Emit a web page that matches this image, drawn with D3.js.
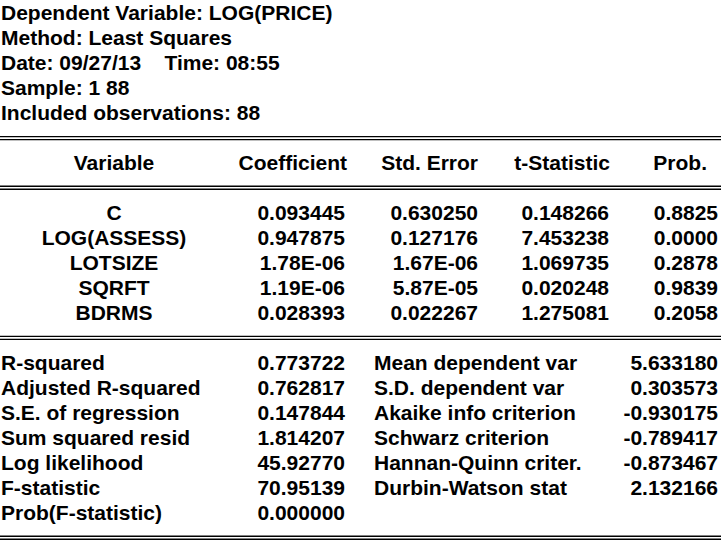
<!DOCTYPE html>
<html>
<head>
<meta charset="utf-8">
<script src="https://cdn.jsdelivr.net/npm/d3@7"></script>
<style>
  html, body { margin: 0; padding: 0; background: #fff; }
  svg { display: block; }
  text { font-family: "Liberation Sans", Arial, sans-serif; font-weight: bold; font-size: 21px; fill: #000; }
</style>
</head>
<body>
<svg id="chart" width="725" height="543"></svg>
<script>
// ---- Data ----
const headerLines = [
  "Dependent Variable: LOG(PRICE)",
  "Method: Least Squares",
  "Date: 09/27/13    Time: 08:55",
  "Sample: 1 88",
  "Included observations: 88"
];
const columnHeaders = ["Variable", "Coefficient", "Std. Error", "t-Statistic", "Prob."];
const variables = ["C", "LOG(ASSESS)", "LOTSIZE", "SQRFT", "BDRMS"];
const coefficients = ["0.093445", "0.947875", "1.78E-06", "1.19E-06", "0.028393"];
const stdErrors = ["0.630250", "0.127176", "1.67E-06", "5.87E-05", "0.022267"];
const tStatistics = ["0.148266", "7.453238", "1.069735", "0.020248", "1.275081"];
const probs = ["0.8825", "0.0000", "0.2878", "0.9839", "0.2058"];
const statLabelsLeft = ["R-squared", "Adjusted R-squared", "S.E. of regression", "Sum squared resid", "Log likelihood", "F-statistic", "Prob(F-statistic)"];
const statValuesLeft = ["0.773722", "0.762817", "0.147844", "1.814207", "45.92770", "70.95139", "0.000000"];
const statLabelsRight = ["Mean dependent var", "S.D. dependent var", "Akaike info criterion", "Schwarz criterion", "Hannan-Quinn criter.", "Durbin-Watson stat"];
const statValuesRight = ["5.633180", "0.303573", "-0.930175", "-0.789417", "-0.873467", "2.132166"];

// ---- Drawing ----
const svg = d3.select("#chart");
svg.append("rect").attr("width", 725).attr("height", 543).attr("fill", "#fff");

const lineStep = 25;
const titleY = d3.scaleLinear().domain([0, 1]).range([20, 20 + lineStep]);
const rowY = d3.scaleLinear().domain([0, 1]).range([220, 220 + lineStep]);
const statY = d3.scaleLinear().domain([0, 1]).range([370, 370 + lineStep]);

// Title block
svg.append("g").selectAll("text").data(headerLines).join("text")
  .attr("x", 1).attr("y", (d, i) => titleY(i))
  .attr("xml:space", "preserve")
  .style("white-space", "pre")
  .text(d => d);

// Double rules
function doubleRule(y) {
  [y, y + 3].forEach(yy => {
    svg.append("line").attr("x1", 0).attr("x2", 721)
      .attr("y1", yy).attr("y2", yy)
      .attr("stroke", "#000").attr("stroke-width", 1.4);
  });
}
doubleRule(136.6);
doubleRule(186.3);
doubleRule(336.4);
doubleRule(536.2);

// Column headers
const headerX = [114, 347, 478, 610, 707];
const headerAnchor = ["middle", "end", "end", "end", "end"];
svg.append("g").selectAll("text").data(columnHeaders).join("text")
  .attr("x", (d, i) => headerX[i]).attr("y", 170)
  .attr("text-anchor", (d, i) => headerAnchor[i])
  .text(d => d);

// Coefficient table
const colX = [114, 345, 478, 609, 718];
const cols = [variables, coefficients, stdErrors, tStatistics, probs];
cols.forEach((col, ci) => {
  svg.append("g").selectAll("text").data(col).join("text")
    .attr("x", colX[ci]).attr("y", (d, i) => rowY(i))
    .attr("text-anchor", ci === 0 ? "middle" : "end")
    .text(d => d);
});

// Summary statistics
svg.append("g").selectAll("text").data(statLabelsLeft).join("text")
  .attr("x", 1).attr("y", (d, i) => statY(i)).text(d => d);
svg.append("g").selectAll("text").data(statValuesLeft).join("text")
  .attr("x", 345).attr("y", (d, i) => statY(i)).attr("text-anchor", "end").text(d => d);
svg.append("g").selectAll("text").data(statLabelsRight).join("text")
  .attr("x", 374).attr("y", (d, i) => statY(i)).text(d => d);
svg.append("g").selectAll("text").data(statValuesRight).join("text")
  .attr("x", 718).attr("y", (d, i) => statY(i)).attr("text-anchor", "end").text(d => d);
</script>
</body>
</html>
